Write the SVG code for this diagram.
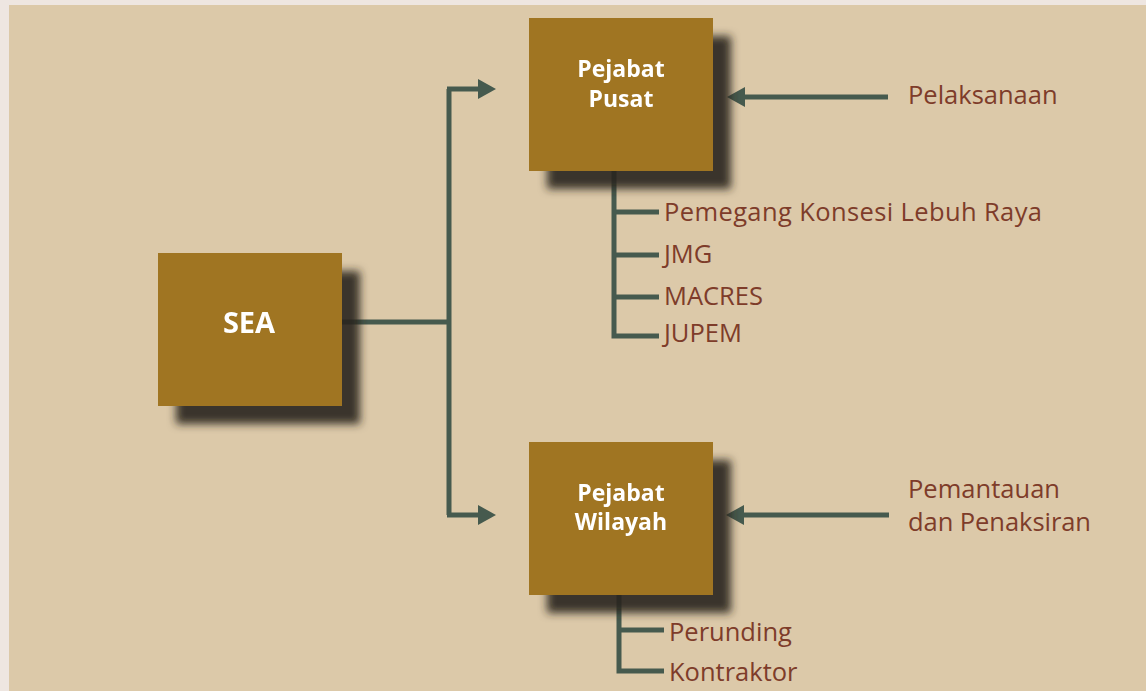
<svg xmlns="http://www.w3.org/2000/svg" width="1146" height="691" viewBox="0 0 1146 691">
<style>
.box{fill:#A07421}
.bt{font-family:"Open Sans","Liberation Sans",sans-serif;font-weight:bold;fill:#ffffff;text-anchor:middle}
.lbl{font-family:"Open Sans","Liberation Sans",sans-serif;font-size:25.5px;fill:#7E3C2A}
.ln{fill:none;stroke:#465A4E;stroke-width:5}
</style>
<defs>
<filter id="sh" x="-20%" y="-20%" width="150%" height="150%">
<feGaussianBlur in="SourceAlpha" stdDeviation="4.5"/>
<feOffset dx="18" dy="18" result="b"/>
<feFlood flood-color="#2a251d" flood-opacity="0.9"/>
<feComposite in2="b" operator="in"/>
<feMerge><feMergeNode/><feMergeNode in="SourceGraphic"/></feMerge>
</filter>
<marker id="ah" viewBox="0 0 18 20" refX="0" refY="10" markerWidth="18" markerHeight="20" markerUnits="userSpaceOnUse" orient="auto">
<path d="M0,0 L18,10 L0,20 Z" fill="#465A4E"/>
</marker>
</defs>
<rect x="0" y="0" width="1146" height="691" fill="#EEE6E1"/>
<rect x="9" y="5" width="1137" height="686" fill="#DCC9A9"/>
<g id="connectors">
<path class="ln" d="M342,322 H449"/>
<path class="ln" d="M449,89 V515"/>
<path class="ln" d="M447,89 H478" marker-end="url(#ah)"/>
<path class="ln" d="M447,515 H478" marker-end="url(#ah)"/>
<path class="ln" d="M888,97 H745" marker-end="url(#ah)"/>
<path class="ln" d="M889,515 H744" marker-end="url(#ah)"/>
<path class="ln" d="M614,170 V336 H659 M614,212 H659 M614,255 H659 M614,297 H659"/>
<path class="ln" d="M619,594 V671 H664 M619,630 H664"/>
</g>
<g id="sea" filter="url(#sh)">
<rect class="box" x="158" y="253" width="184" height="153"/>
<text class="bt" x="249" y="333" font-size="29">SEA</text>
</g>
<g id="pusat" filter="url(#sh)">
<rect class="box" x="529" y="18" width="184" height="153"/>
<text class="bt" x="621" y="77" font-size="23">Pejabat</text>
<text class="bt" x="621" y="107" font-size="23">Pusat</text>
</g>
<g id="wilayah" filter="url(#sh)">
<rect class="box" x="529" y="442" width="184" height="153"/>
<text class="bt" x="621" y="501" font-size="23">Pejabat</text>
<text class="bt" x="621" y="530" font-size="23">Wilayah</text>
</g>
<g id="labels">
<text class="lbl" x="908" y="104">Pelaksanaan</text>
<text class="lbl" x="664" y="221" textLength="378" lengthAdjust="spacing">Pemegang Konsesi Lebuh Raya</text>
<text class="lbl" x="664" y="263">JMG</text>
<text class="lbl" x="664" y="305">MACRES</text>
<text class="lbl" x="664" y="342">JUPEM</text>
<text class="lbl" x="908" y="498" font-size="24" textLength="152" lengthAdjust="spacing">Pemantauan</text>
<text class="lbl" x="908" y="531" font-size="24" textLength="183" lengthAdjust="spacing">dan Penaksiran</text>
<text class="lbl" x="669" y="641">Perunding</text>
<text class="lbl" x="669" y="681">Kontraktor</text>
</g>
</svg>
